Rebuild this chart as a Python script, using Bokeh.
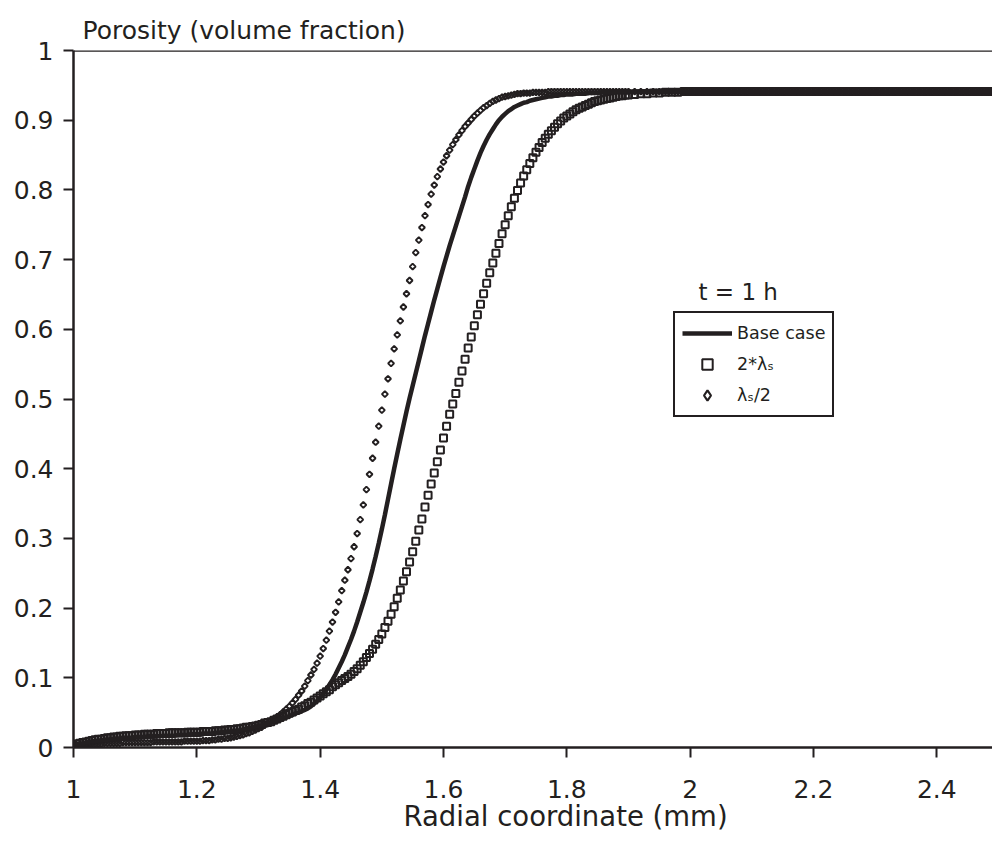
import math
from bokeh.plotting import figure
from bokeh.models import (Legend, LegendItem, Label, Span, FixedTicker, Title,
                          NumeralTickFormatter, Range1d, ColumnDataSource)
from bokeh.embed import file_html
from bokeh.resources import INLINE

# ---------------- data ----------------
radius_mm = [
    1.000, 1.005, 1.010, 1.015, 1.020, 1.025, 1.030, 1.035, 1.040, 1.045,
    1.050, 1.055, 1.060, 1.065, 1.070, 1.075, 1.080, 1.085, 1.090, 1.095,
    1.100, 1.105, 1.110, 1.115, 1.120, 1.125, 1.130, 1.135, 1.140, 1.145,
    1.150, 1.155, 1.160, 1.165, 1.170, 1.175, 1.180, 1.185, 1.190, 1.195,
    1.200, 1.205, 1.210, 1.215, 1.220, 1.225, 1.230, 1.235, 1.240, 1.245,
    1.250, 1.255, 1.260, 1.265, 1.270, 1.275, 1.280, 1.285, 1.290, 1.295,
    1.300,
    1.305, 1.31, 1.315, 1.32, 1.325, 1.33, 1.335, 1.34, 1.345, 1.35,
    1.355, 1.36, 1.365, 1.37, 1.375, 1.38, 1.385, 1.39, 1.395, 1.40,
    1.405, 1.41, 1.415, 1.42, 1.425, 1.43, 1.435, 1.44, 1.445, 1.45,
    1.455, 1.46, 1.465, 1.47, 1.475, 1.48, 1.485, 1.49, 1.495, 1.50,
    1.505, 1.51, 1.515, 1.52, 1.525, 1.53, 1.535, 1.54, 1.545, 1.55,
    1.555, 1.56, 1.565, 1.57, 1.575, 1.58, 1.585, 1.59, 1.595, 1.60,
    1.605, 1.61, 1.615, 1.62, 1.625, 1.63, 1.635, 1.64, 1.645, 1.65,
    1.655, 1.66, 1.665, 1.67, 1.675, 1.68, 1.685, 1.69, 1.695, 1.70,
    1.705, 1.71, 1.715, 1.72, 1.725, 1.73, 1.735, 1.74, 1.745, 1.75,
    1.755, 1.76, 1.765, 1.77, 1.775, 1.78, 1.785, 1.79, 1.795, 1.80,
    1.805, 1.81, 1.815, 1.82, 1.825, 1.83, 1.835, 1.84, 1.845, 1.85,
    1.855, 1.86, 1.865, 1.87, 1.875, 1.88, 1.885, 1.89, 1.895, 1.90,
    1.91, 1.92, 1.93, 1.94, 1.95, 1.96, 1.97, 1.98, 1.99, 2.00,
    2.01, 2.02, 2.03, 2.04, 2.05, 2.06, 2.07, 2.08, 2.09, 2.10,
    2.11, 2.12, 2.13, 2.14, 2.15, 2.16, 2.17, 2.18, 2.19, 2.20,
    2.21, 2.22, 2.23, 2.24, 2.25, 2.26, 2.27, 2.28, 2.29, 2.30,
    2.31, 2.32, 2.33, 2.34, 2.35, 2.36, 2.37, 2.38, 2.39, 2.40,
    2.41, 2.42, 2.43, 2.44, 2.45, 2.46, 2.47, 2.48, 2.49,
]

porosity_base_case = [
    0.003, 0.004, 0.005, 0.006, 0.007, 0.008, 0.009, 0.009, 0.010, 0.010,
    0.011, 0.011, 0.012, 0.012, 0.013, 0.013, 0.014, 0.014, 0.014, 0.014,
    0.015, 0.015, 0.015, 0.015, 0.016, 0.016, 0.016, 0.016, 0.016, 0.017,
    0.017, 0.017, 0.017, 0.017, 0.018, 0.018, 0.018, 0.018, 0.019, 0.019,
    0.019, 0.019, 0.020, 0.020, 0.020, 0.020, 0.021, 0.021, 0.022, 0.022,
    0.023, 0.023, 0.024, 0.024, 0.025, 0.026, 0.027, 0.028, 0.029, 0.030,
    0.031,
    0.032, 0.033, 0.035, 0.036, 0.038, 0.039, 0.041, 0.042, 0.044, 0.045,
    0.047, 0.049, 0.050, 0.052, 0.054, 0.056, 0.059, 0.063, 0.067, 0.072,
    0.077, 0.083, 0.090, 0.097, 0.105, 0.114, 0.123, 0.133, 0.144, 0.155,
    0.167, 0.180, 0.194, 0.208, 0.223, 0.239, 0.256, 0.274, 0.293, 0.313,
    0.334, 0.356, 0.378, 0.400, 0.421, 0.442, 0.462, 0.482, 0.501, 0.519,
    0.537, 0.555, 0.573, 0.591, 0.608, 0.625, 0.642, 0.658, 0.674, 0.690,
    0.705, 0.720, 0.734, 0.748, 0.762, 0.776, 0.790, 0.805, 0.818, 0.830,
    0.842, 0.853, 0.863, 0.872, 0.880, 0.887, 0.894, 0.900, 0.905, 0.909,
    0.913, 0.916, 0.919, 0.921, 0.923, 0.925, 0.926, 0.928, 0.929, 0.930,
    0.931, 0.932, 0.933, 0.934, 0.934, 0.935, 0.935, 0.936, 0.936, 0.937,
    0.937, 0.937, 0.938, 0.938, 0.938, 0.938, 0.939, 0.939, 0.939, 0.939,
    0.940, 0.940, 0.940, 0.940, 0.940, 0.941, 0.941, 0.941, 0.941, 0.941,
    0.941, 0.941, 0.941, 0.941, 0.941, 0.941, 0.941, 0.941, 0.941, 0.941,
    0.941, 0.941, 0.941, 0.941, 0.941, 0.941, 0.941, 0.941, 0.941, 0.941,
    0.941, 0.941, 0.941, 0.941, 0.941, 0.941, 0.941, 0.941, 0.941, 0.941,
    0.941, 0.941, 0.941, 0.941, 0.941, 0.941, 0.941, 0.941, 0.941, 0.941,
    0.941, 0.941, 0.941, 0.941, 0.941, 0.941, 0.941, 0.941, 0.941, 0.941,
    0.941, 0.941, 0.941, 0.941, 0.941, 0.941, 0.941, 0.941, 0.941,
]

porosity_2x_lambda_s = [
    0.003, 0.005, 0.006, 0.007, 0.008, 0.009, 0.010, 0.011, 0.012, 0.012,
    0.013, 0.014, 0.014, 0.015, 0.015, 0.016, 0.016, 0.017, 0.017, 0.017,
    0.018, 0.018, 0.018, 0.019, 0.019, 0.019, 0.019, 0.020, 0.020, 0.020,
    0.020, 0.021, 0.021, 0.021, 0.021, 0.021, 0.021, 0.022, 0.022, 0.022,
    0.022, 0.022, 0.023, 0.023, 0.023, 0.023, 0.024, 0.024, 0.024, 0.025,
    0.025, 0.026, 0.026, 0.027, 0.027, 0.028, 0.029, 0.029, 0.030, 0.031,
    0.032,
    0.033, 0.035, 0.036, 0.037, 0.039, 0.041, 0.043, 0.045, 0.047, 0.049,
    0.051, 0.053, 0.055, 0.058, 0.060, 0.063, 0.065, 0.068, 0.071, 0.074,
    0.077, 0.080, 0.083, 0.087, 0.090, 0.093, 0.096, 0.099, 0.102, 0.105,
    0.109, 0.113, 0.118, 0.123, 0.129, 0.135, 0.141, 0.148, 0.155, 0.163,
    0.172, 0.181, 0.191, 0.202, 0.214, 0.226, 0.239, 0.252, 0.266, 0.281,
    0.296, 0.312, 0.328, 0.345, 0.362, 0.378, 0.394, 0.410, 0.427, 0.444,
    0.461, 0.478, 0.493, 0.508, 0.524, 0.540, 0.557, 0.573, 0.589, 0.605,
    0.621, 0.636, 0.651, 0.666, 0.681, 0.695, 0.709, 0.723, 0.737, 0.750,
    0.763, 0.776, 0.788, 0.799, 0.810, 0.820, 0.829, 0.838, 0.846, 0.854,
    0.861, 0.868, 0.874, 0.880, 0.885, 0.890, 0.895, 0.899, 0.903, 0.906,
    0.909, 0.912, 0.915, 0.917, 0.919, 0.921, 0.923, 0.925, 0.927, 0.928,
    0.929, 0.930, 0.931, 0.932, 0.933, 0.934, 0.935, 0.935, 0.936, 0.936,
    0.937, 0.938, 0.938, 0.939, 0.939, 0.940, 0.940, 0.940, 0.941, 0.941,
    0.941, 0.941, 0.941, 0.941, 0.941, 0.941, 0.941, 0.941, 0.941, 0.941,
    0.941, 0.941, 0.941, 0.941, 0.941, 0.941, 0.941, 0.941, 0.941, 0.941,
    0.941, 0.941, 0.941, 0.941, 0.941, 0.941, 0.941, 0.941, 0.941, 0.941,
    0.941, 0.941, 0.941, 0.941, 0.941, 0.941, 0.941, 0.941, 0.941, 0.941,
    0.941, 0.941, 0.941, 0.941, 0.941, 0.941, 0.941, 0.941, 0.941,
]

porosity_half_lambda_s = [
    0.002, 0.002, 0.003, 0.003, 0.004, 0.004, 0.005, 0.005, 0.005, 0.005,
    0.006, 0.006, 0.006, 0.006, 0.006, 0.006, 0.007, 0.007, 0.007, 0.007,
    0.007, 0.007, 0.007, 0.007, 0.007, 0.007, 0.008, 0.008, 0.008, 0.008,
    0.008, 0.008, 0.008, 0.008, 0.008, 0.008, 0.009, 0.009, 0.009, 0.009,
    0.009, 0.009, 0.010, 0.010, 0.010, 0.011, 0.011, 0.012, 0.012, 0.013,
    0.013, 0.014, 0.015, 0.016, 0.017, 0.018, 0.020, 0.021, 0.023, 0.025,
    0.027,
    0.029, 0.032, 0.035, 0.038, 0.041, 0.044, 0.047, 0.051, 0.055, 0.059,
    0.064, 0.069, 0.075, 0.081, 0.088, 0.096, 0.104, 0.112, 0.121, 0.131,
    0.142, 0.154, 0.167, 0.180, 0.194, 0.209, 0.225, 0.240, 0.255, 0.271,
    0.288, 0.307, 0.327, 0.348, 0.370, 0.392, 0.415, 0.438, 0.461, 0.484,
    0.507, 0.529, 0.551, 0.572, 0.592, 0.612, 0.632, 0.651, 0.670, 0.690,
    0.710, 0.728, 0.746, 0.763, 0.779, 0.794, 0.807, 0.819, 0.830, 0.840,
    0.849, 0.857, 0.865, 0.872, 0.879, 0.885, 0.891, 0.896, 0.901, 0.906,
    0.910, 0.914, 0.918, 0.921, 0.924, 0.927, 0.929, 0.931, 0.933, 0.934,
    0.935, 0.936, 0.937, 0.938, 0.938, 0.939, 0.939, 0.939, 0.940, 0.940,
    0.940, 0.940, 0.940, 0.941, 0.941, 0.941, 0.941, 0.941, 0.941, 0.941,
    0.941, 0.941, 0.941, 0.941, 0.941, 0.941, 0.941, 0.941, 0.941, 0.941,
    0.941, 0.941, 0.941, 0.941, 0.941, 0.941, 0.941, 0.941, 0.941, 0.941,
    0.941, 0.941, 0.941, 0.941, 0.941, 0.941, 0.941, 0.941, 0.941, 0.941,
    0.941, 0.941, 0.941, 0.941, 0.941, 0.941, 0.941, 0.941, 0.941, 0.941,
    0.941, 0.941, 0.941, 0.941, 0.941, 0.941, 0.941, 0.941, 0.941, 0.941,
    0.941, 0.941, 0.941, 0.941, 0.941, 0.941, 0.941, 0.941, 0.941, 0.941,
    0.941, 0.941, 0.941, 0.941, 0.941, 0.941, 0.941, 0.941, 0.941, 0.941,
    0.941, 0.941, 0.941, 0.941, 0.941, 0.941, 0.941, 0.941, 0.941,
]

series_labels = ["Base case", "2*\u03bb\u209b", "\u03bb\u209b/2"]
x_ticks = [1.0, 1.2, 1.4, 1.6, 1.8, 2.0, 2.2, 2.4]
y_ticks = [0.0, 0.1, 0.2, 0.3, 0.4, 0.5, 0.6, 0.7, 0.8, 0.9, 1.0]
y_axis_title = "Porosity (volume fraction)"
x_axis_title = "Radial coordinate (mm)"
time_note = "t = 1 h"

assert len(radius_mm) == len(porosity_base_case) == len(porosity_2x_lambda_s) == len(porosity_half_lambda_s)

# ---------------- styling ----------------
INK = "#231f20"
FONT = "DejaVu Sans"

source = ColumnDataSource(dict(r=radius_mm, base=porosity_base_case,
                               dbl=porosity_2x_lambda_s, half=porosity_half_lambda_s))

p = figure(width=992, height=845, output_backend="svg", toolbar_location=None,
           x_range=Range1d(1.0, 2.4903), y_range=Range1d(0.0, 1.0),
           min_border_left=73, min_border_right=0, min_border_top=50,
           min_border_bottom=98)
p.outline_line_color = None
p.xgrid.visible = False
p.ygrid.visible = False
p.background_fill_color = "white"
p.border_fill_color = "white"

p.title.text = y_axis_title
p.title.align = "left"
p.title.offset = 9
p.title.standoff = 12
p.title.text_font = FONT
p.title.text_font_size = "25px"
p.title.text_font_style = "normal"
p.title.text_color = INK

for ax in (p.xaxis[0], p.yaxis[0]):
    ax.axis_line_color = INK
    ax.axis_line_width = 2.5
    ax.major_tick_line_color = INK
    ax.major_tick_line_width = 2
    ax.major_tick_out = 10
    ax.major_tick_in = 0
    ax.minor_tick_line_color = None
    ax.major_label_text_font = FONT
    ax.major_label_text_font_size = "25px"
    ax.major_label_text_color = INK
    ax.formatter = NumeralTickFormatter(format="0.[0]")

p.xaxis[0].ticker = FixedTicker(ticks=x_ticks)
p.yaxis[0].ticker = FixedTicker(ticks=y_ticks)
p.xaxis[0].major_label_standoff = 22
p.yaxis[0].major_label_standoff = 10

p.add_layout(Title(text=x_axis_title, align="left", offset=330, standoff=-5,
                   text_font=FONT, text_font_size="27.5px",
                   text_font_style="normal", text_color=INK), "below")

# top frame line
p.add_layout(Span(location=1.0, dimension="width", line_color=INK, line_width=2.5))

r_sq = p.scatter("r", "dbl", source=source, marker="square", size=7,
                 line_color=INK, line_width=2, fill_alpha=0)
r_di = p.scatter("r", "half", source=source, marker="square", angle=math.pi / 4,
                 size=4.2, line_color=INK, line_width=1.9, fill_alpha=0)
r_ln = p.line("r", "base", source=source, line_color=INK, line_width=4.5)
# legend swatch for the diamond series (not drawn in the plot)
r_di_key = p.scatter(x=[float("nan")], y=[float("nan")], marker="diamond", size=14,
                     line_color=INK, line_width=2.2, fill_alpha=0)

legend = Legend(items=[LegendItem(label=series_labels[0], renderers=[r_ln]),
                       LegendItem(label=series_labels[1], renderers=[r_sq]),
                       LegendItem(label=series_labels[2], renderers=[r_di_key])],
                location=(600, 330), orientation="vertical",
                border_line_color=INK, border_line_width=2, border_line_alpha=1.0,
                background_fill_color="white", background_fill_alpha=1.0,
                padding=7, spacing=5, margin=0,
                glyph_width=50, glyph_height=26, label_height=26,
                label_standoff=5,
                label_text_font=FONT, label_text_font_size="17.5px",
                label_text_color=INK)
p.add_layout(legend)

p.add_layout(Label(x=2.0135, y=0.6528, text=time_note, text_font=FONT,
                   text_font_size="23px", text_color=INK,
                   text_baseline="alphabetic", text_align="left"))

open("out.html", "w").write(file_html(p, INLINE))
